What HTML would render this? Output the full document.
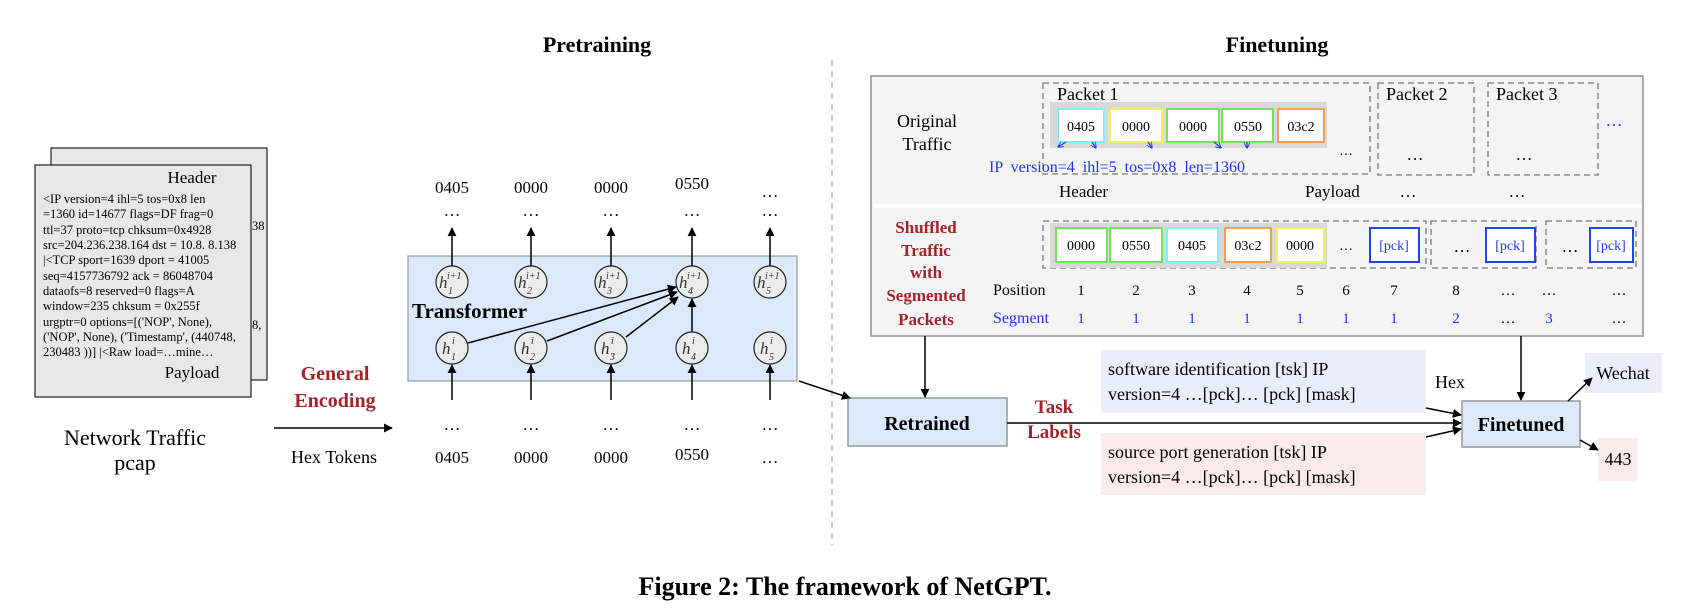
<!DOCTYPE html>
<html><head><meta charset="utf-8"><style>
html,body{margin:0;padding:0;background:#fff}
svg{display:block}
text{font-family:"Liberation Serif",serif}
</style></head><body>
<svg width="1690" height="614" viewBox="0 0 1690 614" xmlns="http://www.w3.org/2000/svg">
<defs>
<marker id="a" viewBox="0 0 10 10" refX="9" refY="5" markerWidth="9" markerHeight="9" orient="auto-start-reverse" markerUnits="userSpaceOnUse"><path d="M0,0 L10,5 L0,10 z" fill="#000"/></marker>
<marker id="ab" viewBox="0 0 10 10" refX="9" refY="5" markerWidth="6" markerHeight="6" orient="auto" markerUnits="userSpaceOnUse"><path d="M0,0 L10,5 L0,10" fill="none" stroke="#2233ee" stroke-width="1.5"/></marker>
</defs>

<text x="597" y="52" font-size="22" font-weight="bold" text-anchor="middle">Pretraining</text>
<text x="1277" y="52" font-size="22" font-weight="bold" text-anchor="middle">Finetuning</text>
<line x1="832" y1="60" x2="832" y2="545" stroke="#999" stroke-dasharray="6,5"/>

<rect x="51" y="148" width="216" height="232" fill="#e8e8e8" stroke="#222" stroke-width="1.2"/>
<text x="252" y="230" font-size="12.5">38</text>
<text x="252" y="329" font-size="12.5">8,</text>
<rect x="35" y="165" width="216" height="232" fill="#e8e8e8" stroke="#222" stroke-width="1.2"/>
<text x="192" y="183" font-size="17" text-anchor="middle">Header</text>
<g font-size="12.5">
<text x="43" y="203">&lt;IP  version=4 ihl=5 tos=0x8 len</text>
<text x="43" y="218">=1360 id=14677 flags=DF frag=0</text>
<text x="43" y="234">ttl=37 proto=tcp chksum=0x4928</text>
<text x="43" y="249">src=204.236.238.164 dst = 10.8. 8.138</text>
<text x="43" y="264">|&lt;TCP  sport=1639 dport = 41005</text>
<text x="43" y="280">seq=4157736792 ack = 86048704</text>
<text x="43" y="295">dataofs=8 reserved=0 flags=A</text>
<text x="43" y="310">window=235 chksum = 0x255f</text>
<text x="43" y="326">urgptr=0 options=[('NOP', None),</text>
<text x="43" y="341">('NOP', None), ('Timestamp', (440748,</text>
<text x="43" y="356">230483 ))] |&lt;Raw load=…mine…</text>
</g>
<text x="192" y="378" font-size="17" text-anchor="middle">Payload</text>
<text x="135" y="445" font-size="22" text-anchor="middle">Network Traffic</text>
<text x="135" y="470" font-size="22" text-anchor="middle">pcap</text>

<text x="335" y="380" font-size="20" font-weight="bold" fill="#a3232a" text-anchor="middle">General</text>
<text x="335" y="407" font-size="20" font-weight="bold" fill="#a3232a" text-anchor="middle">Encoding</text>
<line x1="274" y1="428" x2="392" y2="428" stroke="#000" stroke-width="1.5" marker-end="url(#a)"/>
<text x="334" y="463" font-size="18" text-anchor="middle">Hex Tokens</text>

<rect x="408" y="256" width="389" height="125" fill="#dbe9fb" stroke="#999" stroke-width="1.2"/>
<text x="412" y="318" font-size="21" font-weight="bold">Transformer</text>
<g font-size="17" text-anchor="middle">
<text x="452" y="193">0405</text><text x="531" y="193">0000</text><text x="611" y="193">0000</text><text x="692" y="189">0550</text><text x="770" y="197">…</text>
<text x="452" y="216">…</text><text x="531" y="216">…</text><text x="611" y="216">…</text><text x="692" y="216">…</text><text x="770" y="216">…</text>
<text x="452" y="430">…</text><text x="531" y="430">…</text><text x="611" y="430">…</text><text x="692" y="430">…</text><text x="770" y="430">…</text>
<text x="452" y="463">0405</text><text x="531" y="463">0000</text><text x="611" y="463">0000</text><text x="692" y="460">0550</text><text x="770" y="463">…</text>
</g>
<g stroke="#000" stroke-width="1.5">
<line x1="452" y1="266" x2="452" y2="228" marker-end="url(#a)"/>
<line x1="531" y1="266" x2="531" y2="228" marker-end="url(#a)"/>
<line x1="611" y1="266" x2="611" y2="228" marker-end="url(#a)"/>
<line x1="692" y1="266" x2="692" y2="228" marker-end="url(#a)"/>
<line x1="770" y1="266" x2="770" y2="228" marker-end="url(#a)"/>
<line x1="452" y1="400" x2="452" y2="365" marker-end="url(#a)"/>
<line x1="531" y1="400" x2="531" y2="365" marker-end="url(#a)"/>
<line x1="611" y1="400" x2="611" y2="365" marker-end="url(#a)"/>
<line x1="692" y1="400" x2="692" y2="365" marker-end="url(#a)"/>
<line x1="770" y1="400" x2="770" y2="365" marker-end="url(#a)"/>
<line x1="692" y1="332" x2="692" y2="299" marker-end="url(#a)"/>
<line x1="468" y1="343" x2="676" y2="287" marker-end="url(#a)"/>
<line x1="547" y1="341" x2="677" y2="292" marker-end="url(#a)"/>
<line x1="626" y1="337" x2="678" y2="297" marker-end="url(#a)"/>
</g>
<g fill="#ececec" stroke="#222" stroke-width="1.2">
<circle cx="452" cy="282" r="16"/><circle cx="531" cy="282" r="16"/><circle cx="611" cy="282" r="16"/><circle cx="692" cy="282" r="16"/><circle cx="770" cy="282" r="16"/>
<circle cx="452" cy="348" r="16"/><circle cx="531" cy="348" r="16"/><circle cx="611" cy="348" r="16"/><circle cx="692" cy="348" r="16"/><circle cx="770" cy="348" r="16"/>
</g>
<g font-size="17" font-style="italic" fill="#333">
<text x="439" y="288">h</text><text x="447" y="279" font-size="10">i+1</text><text x="448" y="294" font-size="10">1</text>
<text x="518" y="288">h</text><text x="526" y="279" font-size="10">i+1</text><text x="527" y="294" font-size="10">2</text>
<text x="598" y="288">h</text><text x="606" y="279" font-size="10">i+1</text><text x="607" y="294" font-size="10">3</text>
<text x="679" y="288">h</text><text x="687" y="279" font-size="10">i+1</text><text x="688" y="294" font-size="10">4</text>
<text x="757" y="288">h</text><text x="765" y="279" font-size="10">i+1</text><text x="766" y="294" font-size="10">5</text>
<text x="442" y="354">h</text><text x="452" y="344" font-size="10">i</text><text x="451" y="360" font-size="10">1</text>
<text x="521" y="354">h</text><text x="531" y="344" font-size="10">i</text><text x="530" y="360" font-size="10">2</text>
<text x="601" y="354">h</text><text x="611" y="344" font-size="10">i</text><text x="610" y="360" font-size="10">3</text>
<text x="682" y="354">h</text><text x="692" y="344" font-size="10">i</text><text x="691" y="360" font-size="10">4</text>
<text x="760" y="354">h</text><text x="770" y="344" font-size="10">i</text><text x="769" y="360" font-size="10">5</text>
</g>

<rect x="871" y="76" width="772" height="260" fill="#f4f4f4" stroke="#aaa" stroke-width="2"/>
<line x1="873" y1="206" x2="1641" y2="206" stroke="#fff" stroke-width="4"/>
<text x="927" y="127" font-size="18" text-anchor="middle">Original</text>
<text x="927" y="150" font-size="18" text-anchor="middle">Traffic</text>
<g fill="none" stroke="#777" stroke-width="1.3" stroke-dasharray="6,4">
<rect x="1043" y="83" width="327" height="91"/>
<rect x="1378" y="83" width="96" height="92"/>
<rect x="1488" y="83" width="110" height="92"/>
<rect x="1043" y="221" width="383" height="47"/>
<rect x="1431" y="221" width="105" height="47"/>
<rect x="1546" y="221" width="90" height="47"/>
</g>
<text x="1057" y="100" font-size="18">Packet 1</text>
<text x="1386" y="100" font-size="18">Packet 2</text>
<text x="1496" y="100" font-size="18">Packet 3</text>
<rect x="1050" y="102" width="277" height="46" fill="#d9d9d9"/>
<g stroke-width="2" fill="#fff">
<rect x="1058" y="109" width="46" height="33" stroke="#80f0f8"/>
<rect x="1110" y="109" width="52" height="33" stroke="#f4f060"/>
<rect x="1167" y="109" width="52" height="33" stroke="#78e060"/>
<rect x="1222" y="109" width="51" height="33" stroke="#78e060"/>
<rect x="1278" y="109" width="46" height="33" stroke="#f0a050"/>
</g>
<g font-size="14" text-anchor="middle">
<text x="1081" y="131">0405</text><text x="1136" y="131">0000</text><text x="1193" y="131">0000</text><text x="1248" y="131">0550</text><text x="1301" y="131">03c2</text>
</g>
<text x="1346" y="155" font-size="14" text-anchor="middle">…</text>
<text x="1415" y="160" font-size="17" text-anchor="middle">…</text>
<text x="1524" y="160" font-size="17" text-anchor="middle">…</text>
<text x="1614" y="126" font-size="17" fill="#2233ee" text-anchor="middle">…</text>
<g stroke="#2233ee" stroke-width="1.2">
<line x1="1066" y1="142" x2="1058" y2="147" marker-end="url(#ab)"/>
<line x1="1092" y1="142" x2="1096" y2="148" marker-end="url(#ab)"/>
<line x1="1148" y1="142" x2="1152" y2="148" marker-end="url(#ab)"/>
<line x1="1214" y1="142" x2="1221" y2="148" marker-end="url(#ab)"/>
<line x1="1247" y1="142" x2="1247" y2="148" marker-end="url(#ab)"/>
</g>
<text x="989" y="172" font-size="16" fill="#2233ee" word-spacing="4">IP version=4 ihl=5 tos=0x8 len=1360</text>
<text x="1059" y="197" font-size="17">Header</text>
<text x="1305" y="197" font-size="17">Payload</text>
<text x="1408" y="197" font-size="17" text-anchor="middle">…</text>
<text x="1517" y="197" font-size="17" text-anchor="middle">…</text>

<g font-size="17" font-weight="bold" fill="#a3232a" text-anchor="middle">
<text x="926" y="233">Shuffled</text><text x="926" y="256">Traffic</text><text x="926" y="278">with</text><text x="926" y="301">Segmented</text><text x="926" y="325">Packets</text>
</g>
<rect x="1050" y="223" width="277" height="45" fill="#d9d9d9"/>
<g stroke-width="2" fill="#fff">
<rect x="1056" y="228" width="51" height="34" stroke="#78e060"/>
<rect x="1110" y="228" width="52" height="34" stroke="#78e060"/>
<rect x="1167" y="228" width="51" height="34" stroke="#80f0f8"/>
<rect x="1225" y="228" width="46" height="34" stroke="#f0a050"/>
<rect x="1277" y="228" width="47" height="34" stroke="#f4f060"/>
<rect x="1370" y="228" width="49" height="34" stroke="#2244ee"/>
<rect x="1486" y="228" width="49" height="34" stroke="#2244ee"/>
<rect x="1590" y="228" width="43" height="34" stroke="#2244ee"/>
</g>
<g font-size="14" text-anchor="middle">
<text x="1081" y="250">0000</text><text x="1136" y="250">0550</text><text x="1192" y="250">0405</text><text x="1248" y="250">03c2</text><text x="1300" y="250">0000</text>
<text x="1346" y="250">…</text><text x="1462" y="252" font-size="17">…</text><text x="1570" y="252" font-size="17">…</text>
<text x="1394" y="250" fill="#2233ee">[pck]</text><text x="1510" y="250" fill="#2233ee">[pck]</text><text x="1611" y="250" fill="#2233ee">[pck]</text>
</g>
<text x="993" y="295" font-size="16">Position</text>
<text x="993" y="323" font-size="16" fill="#2233ee">Segment</text>
<g font-size="15" text-anchor="middle">
<text x="1081" y="295">1</text><text x="1136" y="295">2</text><text x="1192" y="295">3</text><text x="1247" y="295">4</text><text x="1300" y="295">5</text><text x="1346" y="295">6</text><text x="1394" y="295">7</text><text x="1456" y="295">8</text><text x="1508" y="295">…</text><text x="1549" y="295">…</text><text x="1619" y="295">…</text>
</g>
<g font-size="15" text-anchor="middle" fill="#2233ee">
<text x="1081" y="323">1</text><text x="1136" y="323">1</text><text x="1192" y="323">1</text><text x="1247" y="323">1</text><text x="1300" y="323">1</text><text x="1346" y="323">1</text><text x="1394" y="323">1</text><text x="1456" y="323">2</text><text x="1508" y="323" fill="#000">…</text><text x="1549" y="323">3</text><text x="1619" y="323" fill="#000">…</text>
</g>

<rect x="848" y="398" width="159" height="48" fill="#dbe9fb" stroke="#999" stroke-width="1.5"/>
<text x="927" y="430" font-size="20" font-weight="bold" text-anchor="middle">Retrained</text>
<rect x="1101" y="350" width="325" height="63" fill="#ececfb"/>
<text x="1108" y="375" font-size="18">software identification [tsk] IP</text>
<text x="1108" y="400" font-size="18">version=4 …[pck]… [pck]  [mask]</text>
<rect x="1101" y="433" width="325" height="62" fill="#fbeaea"/>
<text x="1108" y="458" font-size="18">source port generation [tsk] IP</text>
<text x="1108" y="483" font-size="18">version=4 …[pck]… [pck] [mask]</text>
<text x="1054" y="413" font-size="19" font-weight="bold" fill="#a3232a" text-anchor="middle">Task</text>
<text x="1054" y="438" font-size="19" font-weight="bold" fill="#a3232a" text-anchor="middle">Labels</text>
<text x="1435" y="388" font-size="18">Hex</text>
<rect x="1462" y="401" width="118" height="46" fill="#dbe9fb" stroke="#999" stroke-width="1.5"/>
<text x="1521" y="431" font-size="20" font-weight="bold" text-anchor="middle">Finetuned</text>
<rect x="1585" y="353" width="77" height="40" fill="#ececfb"/>
<text x="1623" y="379" font-size="18" text-anchor="middle">Wechat</text>
<rect x="1598" y="438" width="40" height="43" fill="#fbeaea"/>
<text x="1618" y="465" font-size="18" text-anchor="middle">443</text>
<g stroke="#000" stroke-width="1.5">
<line x1="799" y1="381" x2="850" y2="398" marker-end="url(#a)"/>
<line x1="925" y1="336" x2="925" y2="397" marker-end="url(#a)"/>
<line x1="1007" y1="423" x2="1461" y2="423" marker-end="url(#a)"/>
<line x1="1426" y1="408" x2="1461" y2="415" marker-end="url(#a)"/>
<line x1="1426" y1="437" x2="1461" y2="429" marker-end="url(#a)"/>
<line x1="1521" y1="336" x2="1521" y2="400" marker-end="url(#a)"/>
<line x1="1568" y1="401" x2="1592" y2="378" marker-end="url(#a)"/>
<line x1="1580" y1="440" x2="1598" y2="450" marker-end="url(#a)"/>
</g>

<text x="845" y="595" font-size="26" font-weight="bold" text-anchor="middle">Figure 2: The framework of NetGPT.</text>
</svg>
</body></html>
